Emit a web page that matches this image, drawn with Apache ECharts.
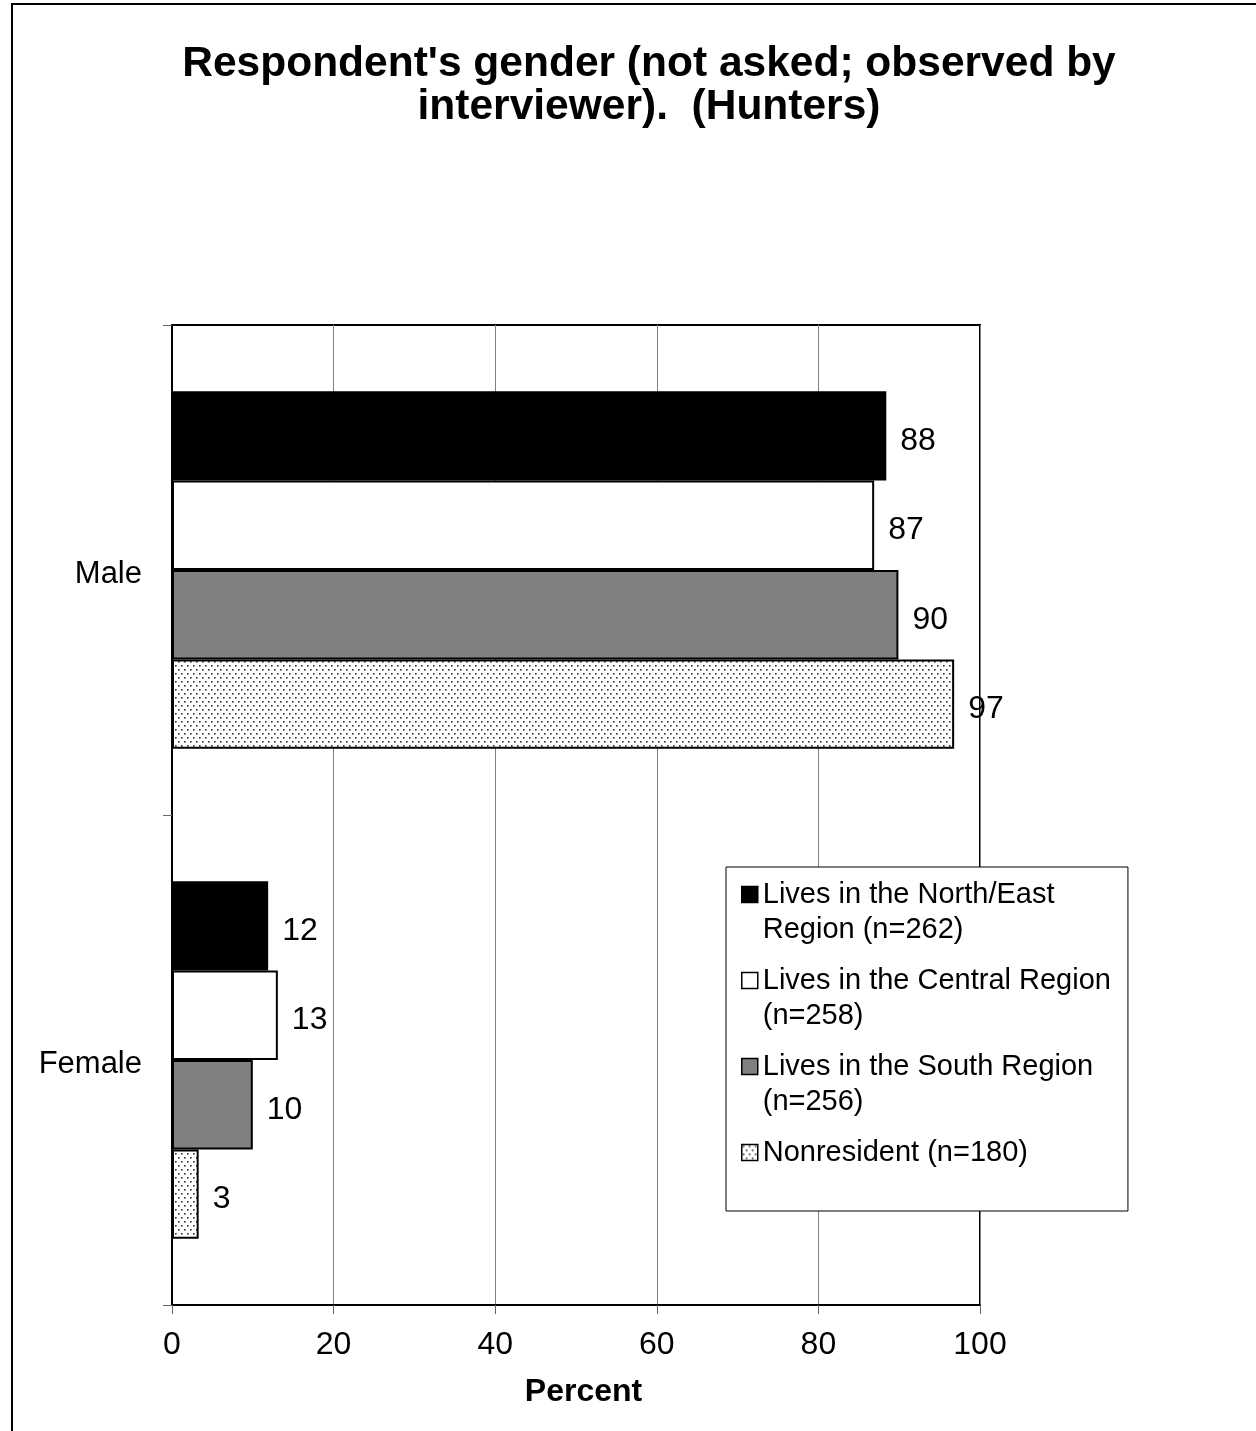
<!DOCTYPE html>
<html>
<head>
<meta charset="utf-8">
<script src="https://cdn.jsdelivr.net/npm/echarts@6/dist/echarts.min.js"></script>
<style>
html,body{margin:0;padding:0;background:#fff;}
#chart{width:1256px;height:1431px;}
</style>
</head>
<body>
<div id="chart"></div>
<script>
const categories = ['Male', 'Female'];
const seriesNames = [
  'Lives in the North/East Region (n=262)',
  'Lives in the Central Region (n=258)',
  'Lives in the South Region (n=256)',
  'Nonresident (n=180)'
];
const legendLabels = [
  'Lives in the North/East\nRegion (n=262)',
  'Lives in the Central Region\n(n=258)',
  'Lives in the South Region\n(n=256)',
  'Nonresident (n=180)\n '
];
const northEast = [88.4, 11.9];
const central = [86.9, 13.1];
const south = [89.9, 10.0];
const nonresident = [96.8, 3.3];
const xTicks = [0, 20, 40, 60, 80, 100];

const FONT = '"Liberation Sans", Arial, Helvetica, sans-serif';

// dotted pattern tile
const tile = document.createElement('canvas');
tile.width = 6; tile.height = 8;
const tc = tile.getContext('2d');
tc.fillStyle = '#fff'; tc.fillRect(0, 0, 6, 8);
tc.fillStyle = '#333';
tc.fillRect(1, 1, 1.6, 1.6);
tc.fillRect(4, 5, 1.6, 1.6);

const fills = ['#000000', '#ffffff', '#808080', {image: tile, repeat: 'repeat'}];
const values = [northEast, central, south, nonresident];

const chart = echarts.init(document.getElementById('chart'), null, {renderer: 'canvas'});

const series = seriesNames.map((name, i) => ({
  name: name,
  type: 'bar',
  data: values[i],
  barGap: '0%',
  barCategoryGap: '27%',
  itemStyle: {color: fills[i], borderColor: '#000', borderWidth: 2},
  label: {
    show: true, position: 'right', distance: 14, offset: [0, 5],
    fontFamily: FONT, fontSize: 32, color: '#000',
    formatter: p => String(Math.round(p.value))
  },
  emphasis: {disabled: true}
}));

chart.setOption({
  animation: false,
  backgroundColor: '#fff',
  title: {
    text: "Respondent's gender (not asked; observed by\ninterviewer).  (Hunters)",
    left: 649, top: 43,
    padding: 0,
    textAlign: 'center',
    textStyle: {fontFamily: FONT, fontSize: 42.5, fontWeight: 'bold', color: '#000', lineHeight: 43}
  },
  graphic: [{
    type: 'rect', silent: true, z: -1,
    shape: {x: 12, y: 4, width: 1260, height: 1500},
    style: {fill: 'none', stroke: '#000', lineWidth: 2}
  }],
  legend: {
    orient: 'vertical',
    left: 726, top: 867,
    padding: [10, 17, 6, 15],
    itemGap: 16,
    itemWidth: 16, itemHeight: 51,
    icon: 'path://M0,0L16,0L16,16L0,16Z M0,51L0,51',
    backgroundColor: '#fff',
    borderColor: '#000', borderWidth: 1,
    itemStyle: {borderColor: '#000', borderWidth: 1.5},
    textStyle: {fontFamily: FONT, fontSize: 29, color: '#000', lineHeight: 35},
    formatter: name => legendLabels[seriesNames.indexOf(name)],
    data: seriesNames,
    selectedMode: false
  },
  grid: {
    left: 172, right: 276, top: 325, bottom: 126,
    show: true, borderColor: '#000', borderWidth: 2, backgroundColor: 'transparent',
    containLabel: false
  },
  xAxis: {
    type: 'value', min: 0, max: 100, interval: 20,
    name: 'Percent', nameLocation: 'middle', nameGap: 71,
    nameTextStyle: {fontFamily: FONT, fontSize: 32, fontWeight: 'bold', color: '#000', padding: [0, 0, 0, 15]},
    axisLine: {show: true, lineStyle: {color: '#000', width: 2}},
    axisTick: {show: true, length: 9, lineStyle: {color: '#666', width: 1}},
    axisLabel: {fontFamily: FONT, fontSize: 32, color: '#000', margin: 24,
      formatter: v => xTicks.includes(v) ? String(v) : ''},
    splitLine: {show: true, lineStyle: {color: '#808080', width: 1}}
  },
  yAxis: {
    type: 'category', data: categories, inverse: true,
    axisLine: {show: true, lineStyle: {color: '#000', width: 2}},
    axisTick: {show: true, length: 9, lineStyle: {color: '#666', width: 1}},
    axisLabel: {
      margin: 30,
      formatter: v => '{c|' + v + '}',
      rich: {c: {fontFamily: FONT, fontSize: 31, color: '#000', padding: [8, 0, 0, 0]}}
    },
    splitLine: {show: false}
  },
  series: series
});
</script>
</body>
</html>
